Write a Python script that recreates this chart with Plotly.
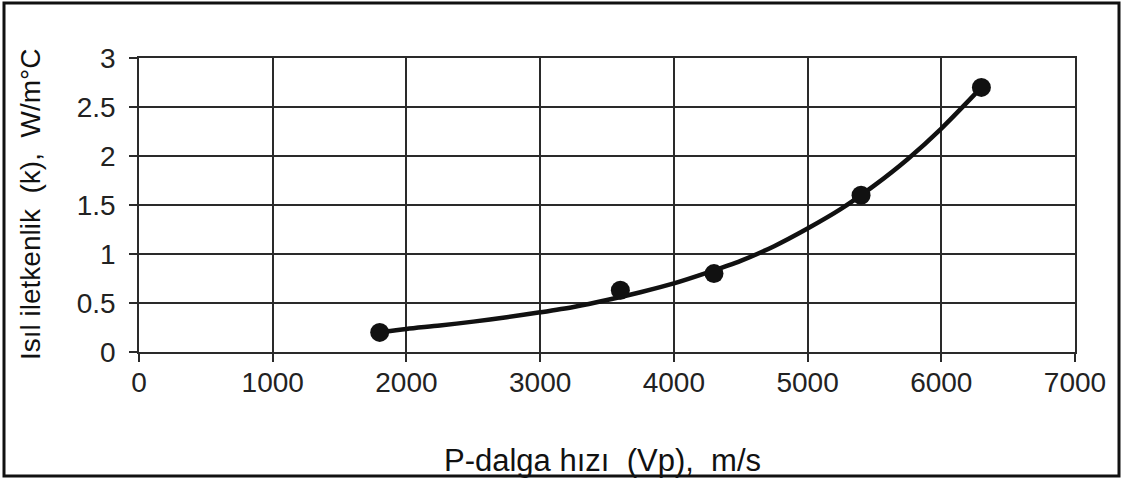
import plotly.graph_objects as go

# Measured points
vp_points = [1800, 3600, 4300, 5400, 6300]
k_points = [0.20, 0.63, 0.80, 1.60, 2.70]

# Trend curve
vp_curve = [1800, 2000, 2250, 2500, 2750, 3000, 3250, 3500, 3750, 4000,
            4250, 4500, 4750, 5000, 5250, 5500, 5750, 6000, 6300]
k_curve = [0.20, 0.235, 0.27, 0.31, 0.355, 0.405, 0.46, 0.53, 0.61, 0.70,
           0.81, 0.93, 1.08, 1.26, 1.46, 1.70, 1.97, 2.28, 2.70]

x_ticks = [0, 1000, 2000, 3000, 4000, 5000, 6000, 7000]
y_ticks = [0, 0.5, 1, 1.5, 2, 2.5, 3]
y_tick_labels = ["0", "0.5", "1", "1.5", "2", "2.5", "3"]

x_title = "P-dalga hızı  (Vp),  m/s"
y_title = "Isıl iletkenlik  (k),  W/m°C"

W, H = 1122, 481
L, R, T, B = 139, 47, 58, 129
pw, ph = W - L - R, H - T - B

FONT = "Liberation Sans, Arial, sans-serif"


def px_to_paper_x(px):
    return (px - L) / pw


def px_to_paper_y(py):
    return (H - B - py) / ph


fig = go.Figure()
fig.add_trace(go.Scatter(x=vp_curve, y=k_curve, mode="lines",
                         line=dict(color="#111111", width=4.5, shape="spline",
                                   smoothing=0.8),
                         showlegend=False, hoverinfo="skip"))
fig.add_trace(go.Scatter(x=vp_points, y=k_points, mode="markers",
                         marker=dict(color="#111111", size=19),
                         showlegend=False))

axis_common = dict(
    showgrid=True, gridcolor="#2a2a2a", gridwidth=1.5,
    showline=True, linecolor="#2a2a2a", linewidth=1.5, mirror=True,
    ticks="outside", ticklen=8, tickcolor="#2a2a2a", tickwidth=1.5,
    zeroline=False,
    tickfont=dict(family=FONT, size=28, color="#222222"),
)

fig.update_xaxes(range=[0, 7000], tickvals=x_ticks, ticklabelstandoff=-3,
                 **axis_common)
fig.update_yaxes(range=[0, 3], tickvals=y_ticks, ticktext=y_tick_labels,
                 ticklabelstandoff=8, **axis_common)

fig.add_annotation(text=x_title, xref="paper", yref="paper",
                   x=px_to_paper_x(602), y=px_to_paper_y(460),
                   xanchor="center", yanchor="middle", showarrow=False,
                   font=dict(family=FONT, size=31, color="#111111"))
fig.add_annotation(text=y_title, xref="paper", yref="paper",
                   x=px_to_paper_x(30), y=px_to_paper_y(205),
                   xanchor="center", yanchor="middle", showarrow=False,
                   textangle=-90,
                   font=dict(family=FONT, size=28, color="#111111"))

# outer frame
fig.add_shape(type="rect", xref="paper", yref="paper",
              x0=px_to_paper_x(4), x1=px_to_paper_x(1119),
              y0=px_to_paper_y(476), y1=px_to_paper_y(3),
              line=dict(color="#111111", width=3), fillcolor="rgba(0,0,0,0)",
              layer="below")

fig.update_layout(
    width=W, height=H,
    margin=dict(l=L, r=R, t=T, b=B),
    paper_bgcolor="white", plot_bgcolor="white",
    font=dict(family=FONT),
)

fig.write_html("out.html")
